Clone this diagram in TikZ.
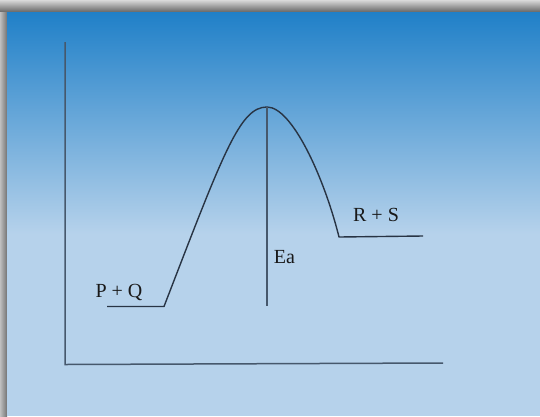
\documentclass[tikz,border=0pt]{standalone}
\usepackage{fontspec}
\setmainfont{Liberation Serif}
\definecolor{bgtop}{RGB}{32,128,200}
\definecolor{bgbot}{RGB}{182,210,235}
\definecolor{lineclr}{RGB}{40,52,68}
\definecolor{axisclr}{RGB}{70,88,108}
\definecolor{txtclr}{RGB}{25,25,25}
\tikzset{
  curveline/.style={draw=lineclr, line width=1.4pt, line join=round},
  axisline/.style={draw=axisclr, line width=1.5pt},
  ealine/.style={draw=axisclr, line width=1.3pt},
  lbl/.style={text=txtclr, font=\fontsize{20}{23}\selectfont, inner sep=0pt, anchor=base}
}
\begin{document}
\begin{tikzpicture}[x=1pt,y=-1pt]
\useasboundingbox (0,0) rectangle (540,416);
% shadow frame
\fill[black!30] (0,0) rectangle (540,416);
\shade[top color=black!15, bottom color=black!60] (0,0) rectangle (540,12);
\shade[left color=black!25, right color=black!55] (0,12) rectangle (7,416);
% gradient panel
\shade[top color=bgtop, bottom color=bgbot] (7,12) rectangle (540,234);
\fill[bgbot] (7,233.5) rectangle (540,416);
% coordinates
\coordinate (ytop) at (65,42);
\coordinate (origin) at (65,364.5);
\coordinate (xend) at (443,363);
\coordinate (pstart) at (107,306.5);
\coordinate (pend) at (164,306.5);
\coordinate (peak) at (267,107);
\coordinate (rstart) at (339,237);
\coordinate (rend) at (423,236);
\coordinate (eabot) at (267,306);
% axes
\draw[axisline] (ytop) -- (origin) -- (xend);
% energy curve
\draw[curveline] (pstart) -- (pend)
  .. controls (224,151) and (240,107) .. (peak)
  .. controls (292,107) and (324,177) .. (rstart) -- (rend);
% Ea line
\draw[ealine] (peak) -- (eabot);
% labels
\node[lbl] (pq) at (119,297) {P + Q};
\node[lbl] (rs) at (376,221) {R + S};
\node[lbl] (ea) at (284.5,263) {Ea};
\end{tikzpicture}
\end{document}
